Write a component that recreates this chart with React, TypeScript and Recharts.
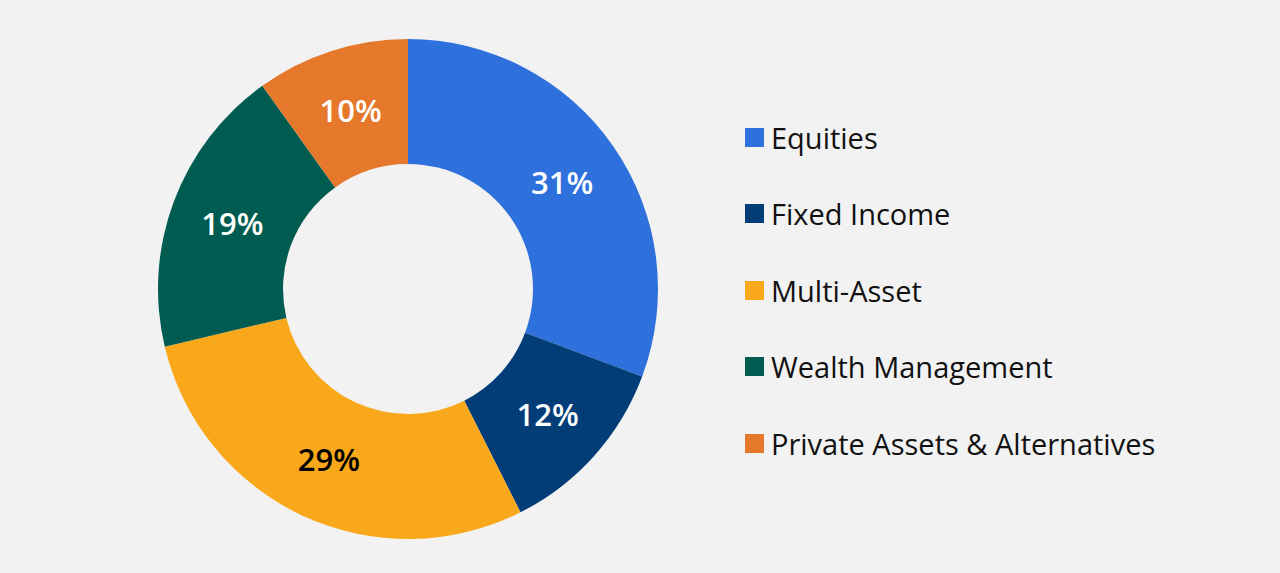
import React from "react";
import { Cell, Legend, Pie, PieChart } from "recharts";

const segments = ["Equities", "Fixed Income", "Multi-Asset", "Wealth Management", "Private Assets & Alternatives"];
const shares = [31, 12, 29, 19, 10];
const colors = ["#2e70dc", "#023d78", "#f9a81c", "#005c50", "#e5782a"];
const labelColors = ["#ffffff", "#ffffff", "#000000", "#ffffff", "#ffffff"];

const data = segments.map((name, i) => ({ name, value: shares[i] }));

const FONT = "'Open Sans', 'Noto Sans', sans-serif";
const RADIAN = Math.PI / 180;

function renderLabel(props: any) {
  const { cx, cy, midAngle, innerRadius, outerRadius, value, index } = props;
  const r = (innerRadius + outerRadius) / 2;
  const x = cx + r * Math.cos(-midAngle * RADIAN);
  const y = cy + r * Math.sin(-midAngle * RADIAN);
  return (
    <text
      x={x}
      y={y}
      fill={labelColors[index]}
      textAnchor="middle"
      dominantBaseline="central"
      fontFamily={FONT}
      fontSize={31}
      fontWeight={600}
    >
      {value}%
    </text>
  );
}

function LegendList() {
  return (
    <div style={{ fontFamily: FONT }}>
      {segments.map((name, i) => (
        <div key={name} style={{ display: "flex", alignItems: "center", height: 76.5 }}>
          <span style={{ width: 19, height: 19, background: colors[i], marginRight: 7, flexShrink: 0 }} />
          <span style={{ fontSize: 29, color: "#111", whiteSpace: "nowrap" }}>{name}</span>
        </div>
      ))}
    </div>
  );
}

export default function App() {
  return (
    <div style={{ position: "absolute", left: 0, top: 0, width: 1280, height: 573, background: "#f2f2f2" }}>
      <PieChart width={1280} height={573} margin={{ top: 0, right: 0, bottom: 0, left: 0 }}>
        <Pie
          data={data}
          dataKey="value"
          nameKey="name"
          cx={408}
          cy={289}
          innerRadius={125}
          outerRadius={250}
          startAngle={90}
          endAngle={-270}
          stroke="none"
          label={renderLabel}
          labelLine={false}
          isAnimationActive={false}
        >
          {data.map((d, i) => (
            <Cell key={d.name} fill={colors[i]} />
          ))}
        </Pie>
        <Legend
          layout="vertical"
          content={() => <LegendList />}
          wrapperStyle={{ left: 745, top: 99, width: 520 }}
        />
      </PieChart>
    </div>
  );
}
